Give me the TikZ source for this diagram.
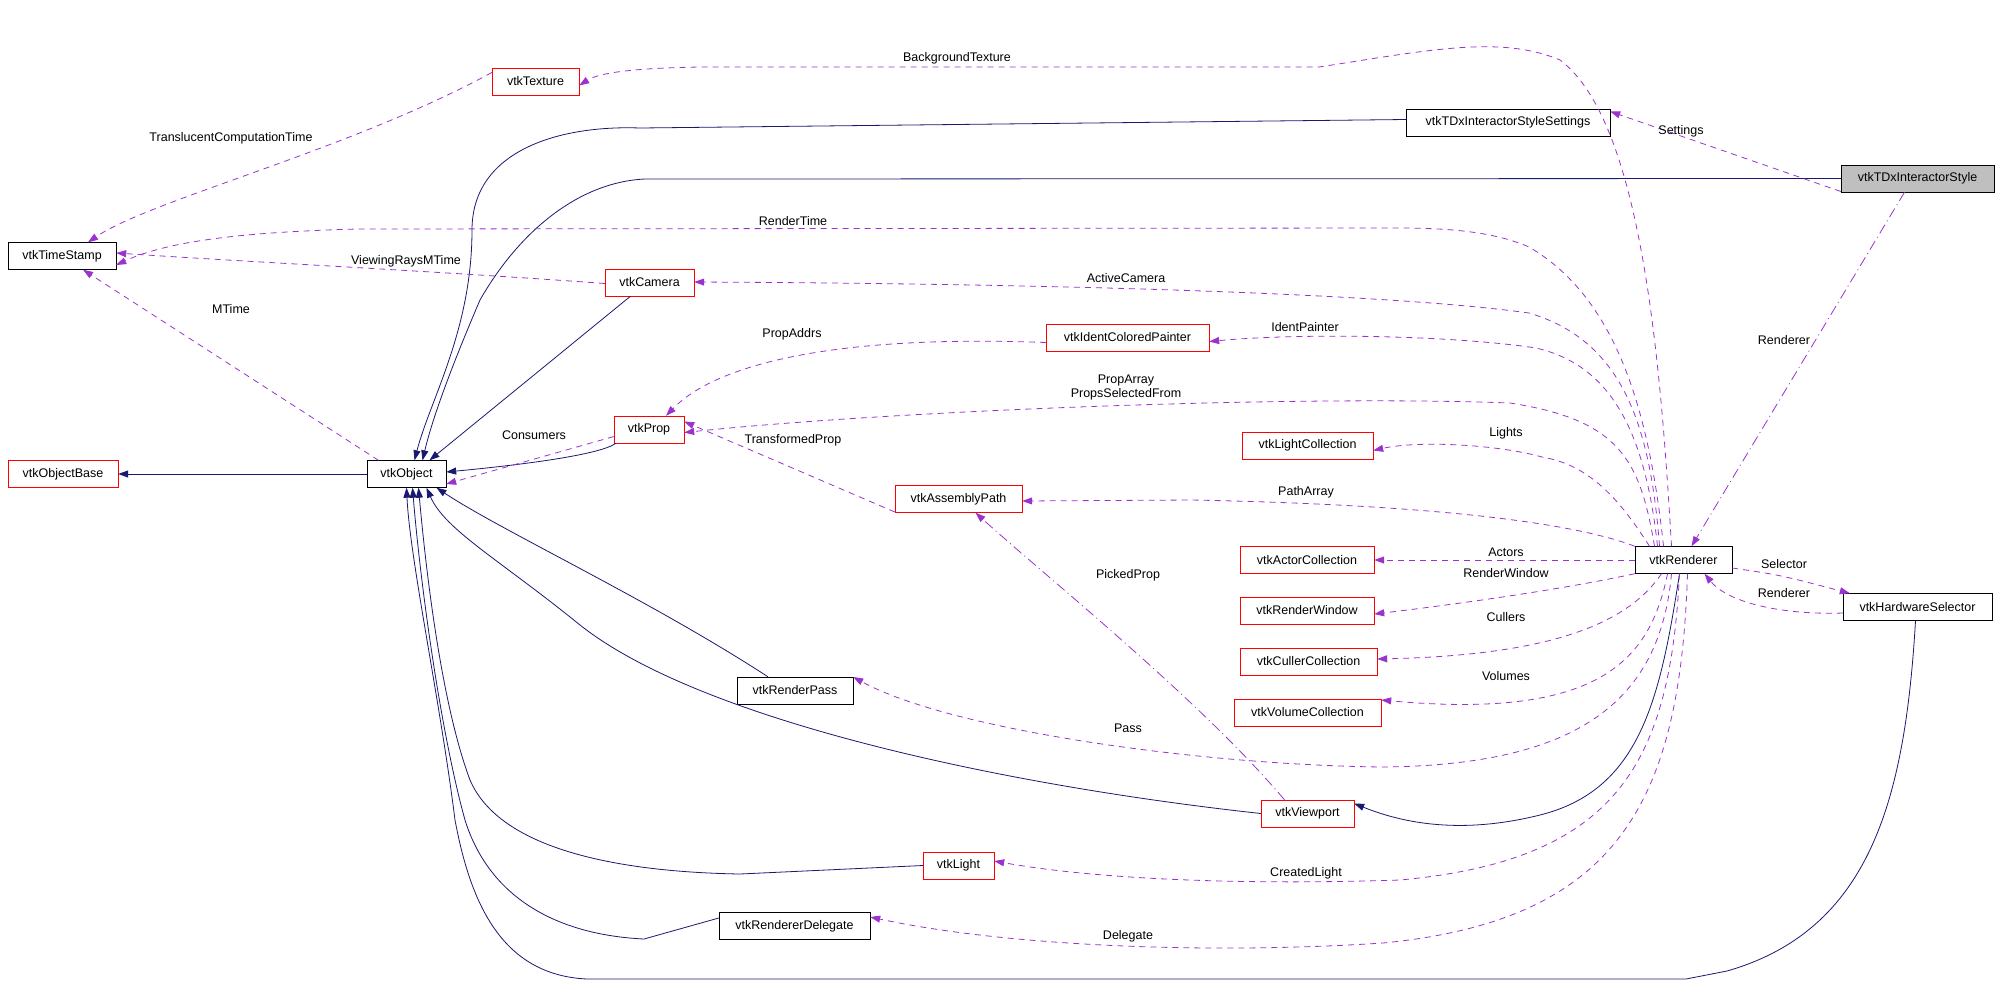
\documentclass[tikz,border=0pt]{standalone}
\usepackage{fontspec}
\setmainfont{Liberation Sans}
\usetikzlibrary{arrows.meta}
\definecolor{inh}{HTML}{191970}
\definecolor{use}{HTML}{9A32CD}
\tikzset{
 cls/.style={draw=black,fill=white,minimum height=27pt,inner sep=0pt,font=\fontsize{12.5}{14}\selectfont},
 rcls/.style={cls,draw=red},
 gcls/.style={cls,fill=black!25},
 inhe/.style={draw=inh,line width=0.8pt,-{Triangle[length=10pt,width=7pt]}},
 usee/.style={draw=use,line width=0.8pt,dash pattern=on 6pt off 5pt,-{Triangle[length=10pt,width=7pt]}},
 lbl/.style={font=\fontsize{12.5}{14}\selectfont,inner sep=0pt,align=center}
}
\begin{document}
\begin{tikzpicture}[x=1pt,y=-1pt]
\useasboundingbox (0,0) rectangle (1995,997);
% nodes
\node[rcls,minimum width=87pt] (texture) at (535.5,81.5) {vtkTexture};
\node[cls,minimum width=108pt] (ts) at (62,256) {vtkTimeStamp};
\node[rcls,minimum width=89pt] (camera) at (649.5,282.5) {vtkCamera};
\node[rcls,minimum width=70pt] (prop) at (649,429.5) {vtkProp};
\node[rcls,minimum width=110pt] (objbase) at (63,474) {vtkObjectBase};
\node[cls,minimum width=79pt] (obj) at (406.5,474) {vtkObject};
\node[rcls,minimum width=127pt] (apath) at (958.5,499) {vtkAssemblyPath};
\node[cls,minimum width=204pt] (settings) at (1508,122.5) {vtkTDxInteractorStyleSettings};
\node[gcls,minimum width=153pt] (style) at (1917.5,178.5) {vtkTDxInteractorStyle};
\node[rcls,minimum width=163pt] (painter) at (1127.5,337.5) {vtkIdentColoredPainter};
\node[rcls,minimum width=131pt] (lightc) at (1307.5,445.5) {vtkLightCollection};
\node[rcls,minimum width=134pt] (actorc) at (1307,560) {vtkActorCollection};
\node[cls,minimum width=97pt] (ren) at (1683.5,560) {vtkRenderer};
\node[rcls,minimum width=134pt] (rwin) at (1307,610.5) {vtkRenderWindow};
\node[rcls,minimum width=137pt] (cullc) at (1308.5,661.5) {vtkCullerCollection};
\node[rcls,minimum width=147pt] (volc) at (1307.5,712.5) {vtkVolumeCollection};
\node[cls,minimum width=149pt] (hw) at (1917.5,607) {vtkHardwareSelector};
\node[rcls,minimum width=93pt] (vp) at (1307.5,813.5) {vtkViewport};
\node[cls,minimum width=116pt] (rpass) at (795,690.5) {vtkRenderPass};
\node[rcls,minimum width=71pt] (light) at (958.5,865.5) {vtkLight};
\node[cls,minimum width=151pt] (deleg) at (794.5,926) {vtkRendererDelegate};
% inheritance
\draw[inhe] (obj.west) -- (objbase.east);
\draw[inhe] ([xshift=-19pt]camera.south) -- ([xshift=23pt]obj.north);
\draw[inhe] ([xshift=-33pt]prop.south) .. controls (600,455) and (520,465) .. ([yshift=2pt]obj.east);
\draw[inhe] ([yshift=3pt]settings.west) -- (640,128) .. controls (560,125) and (472,150) .. (472,230) .. controls (472,330) and (430,400) .. ([xshift=8pt]obj.north);
\draw[inhe] (style.west) -- (645,179) .. controls (580,182) and (520,230) .. (480,300) .. controls (450,370) and (432,420) .. ([xshift=16pt]obj.north);
\draw[inhe] ([xshift=-27pt]rpass.north) .. controls (650,600) and (500,530) .. ([xshift=30pt]obj.south);
\draw[inhe] (vp.west) .. controls (1000,785) and (700,720) .. (580,625) .. controls (500,560) and (445,530) .. ([xshift=20pt]obj.south);
\draw[inhe] (light.west) -- (740,874) .. controls (620,872) and (500,850) .. (470,780) .. controls (440,700) and (425,560) .. ([xshift=12pt]obj.south);
\draw[inhe] ([yshift=8pt]deleg.west) -- (644,939) .. controls (560,935) and (490,900) .. (465,820) .. controls (440,730) and (420,580) .. ([xshift=6pt]obj.south);
\draw[inhe] ([xshift=-2pt]hw.south) .. controls (1905,800) and (1870,930) .. (1727,971) -- (1686,979) -- (587,979) .. controls (500,975) and (470,900) .. (455,820) .. controls (440,700) and (410,560) .. ([xshift=0pt]obj.south);
\draw[inhe] ([xshift=-4pt]ren.south) .. controls (1660,700) and (1640,790) .. (1540,815) .. controls (1480,830) and (1420,830) .. ([yshift=10pt]vp.east);
% usage
\draw[usee] ([yshift=9pt]texture.west) .. controls (350,150) and (150,200) .. ([xshift=26pt]ts.north);
\node[lbl] (l1) at (231,138) {TranslucentComputationTime};
\draw[usee] ([xshift=-12pt]ren.north) .. controls (1660,350) and (1640,120) .. (1560,60) .. controls (1500,35) and (1430,50) .. (1319,67) -- (700,67) .. controls (640,68) and (600,72) .. ([yshift=-4pt]texture.east);
\node[lbl] (l2) at (957,58) {BackgroundTexture};
\draw[usee] ([yshift=-13pt]style.west) -- ([yshift=11pt]settings.east);
\node[lbl] (l3) at (1681,131) {Settings};
\draw[usee,dash pattern=on 10pt off 4pt on 1pt off 4pt] ([xshift=-13pt]style.south) -- ([xshift=8pt]ren.north);
\node[lbl] (l4) at (1784,340) {Renderer};
\draw[usee] ([xshift=-20pt]ren.north) .. controls (1650,420) and (1620,300) .. (1529,247) .. controls (1490,230) and (1440,228) .. (1395,228) -- (357,229) .. controls (250,232) and (170,240) .. ([yshift=-9pt]ts.east);
\node[lbl] (l5) at (793,221) {RenderTime};
\draw[usee] ([yshift=-1pt]camera.west) .. controls (450,272) and (250,262) .. ([yshift=3pt]ts.east);
\node[lbl] (l6) at (406,261) {ViewingRaysMTime};
\draw[usee] ([xshift=-28pt]obj.north) -- ([xshift=21pt]ts.south);
\node[lbl] (l7) at (231,309) {MTime};
\draw[usee] ([xshift=-24pt]ren.north) .. controls (1650,420) and (1620,340) .. (1529,313) .. controls (1400,295) and (1100,284) .. ([yshift=0.5pt]camera.east);
\node[lbl] (l8) at (1126,278) {ActiveCamera};
\draw[usee] ([yshift=-5pt]painter.west) .. controls (850,335) and (720,360) .. ([xshift=17pt]prop.north);
\node[lbl] (l9) at (792,334) {PropAddrs};
\draw[usee] ([xshift=-26pt]ren.north) .. controls (1645,430) and (1610,365) .. (1536,348) .. controls (1450,335) and (1300,333) .. ([yshift=-4pt]painter.east);
\node[lbl] (l10) at (1305,327) {IdentPainter};
\draw[usee] ([xshift=-29pt]ren.north) .. controls (1640,460) and (1620,420) .. (1510,403) .. controls (1300,395) and (900,410) .. ([yshift=-3pt]prop.east);
\node[lbl] (l11) at (1126,387) {PropArray\\PropsSelectedFrom};
\draw[usee] ([yshift=-7pt]prop.west) -- ([yshift=-10pt]obj.east);
\node[lbl] (l12) at (534,435) {Consumers};
\draw[usee] ([yshift=-13pt]apath.west) -- ([yshift=8pt]prop.east);
\node[lbl] (l13) at (793,440) {TransformedProp};
\draw[usee] ([xshift=-34pt]ren.north) .. controls (1620,500) and (1590,465) .. (1542,457) .. controls (1500,445) and (1420,440) .. ([yshift=-5pt]lightc.east);
\node[lbl] (l14) at (1506,433) {Lights};
\draw[usee] (ren.north west) .. controls (1580,525) and (1450,505) .. (1191,500) -- ([yshift=-2pt]apath.east);
\node[lbl] (l15) at (1306,492) {PathArray};
\draw[usee] (ren.west) -- (actorc.east);
\node[lbl] (l16) at (1506,552) {Actors};
\draw[usee] (ren.south west) .. controls (1560,590) and (1450,605) .. ([yshift=-3.5pt]rwin.east);
\node[lbl] (l17) at (1506,573) {RenderWindow};
\draw[usee] ([xshift=-22pt]ren.south) .. controls (1630,620) and (1560,655) .. ([yshift=2.5pt]cullc.east);
\node[lbl] (l18) at (1506,617) {Cullers};
\draw[usee] ([xshift=-16pt]ren.south) .. controls (1650,660) and (1600,720) .. ([yshift=12.5pt]volc.east);
\node[lbl] (l19) at (1506,676) {Volumes};
\draw[usee,dash pattern=on 10pt off 4pt on 1pt off 4pt] ([xshift=-23pt]vp.north) .. controls (1200,700) and (1050,580) .. ([xshift=17pt]apath.south);
\node[lbl] (l20) at (1128,575) {PickedProp};
\draw[usee] ([xshift=-12pt]ren.south) .. controls (1660,700) and (1580,765) .. (1383,767) .. controls (1200,765) and (950,730) .. ([yshift=13.5pt]rpass.east);
\node[lbl] (l21) at (1128,728) {Pass};
\draw[usee] ([xshift=-4pt]ren.south) .. controls (1670,760) and (1620,860) .. (1400,880) .. controls (1250,885) and (1100,880) .. ([yshift=4.5pt]light.east);
\node[lbl] (l22) at (1306,873) {CreatedLight};
\draw[usee] ([xshift=4pt]ren.south) .. controls (1680,800) and (1620,920) .. (1383,943) .. controls (1200,955) and (1000,945) .. ([yshift=9pt]deleg.east);
\node[lbl] (l23) at (1128,936) {Delegate};
\draw[usee] ([yshift=-8pt]ren.east) .. controls (1780,575) .. ([xshift=7pt]hw.north west);
\node[lbl] (l24) at (1784,564) {Selector};
\draw[usee] ([yshift=-6pt]hw.west) .. controls (1790,615) and (1730,605) .. ([xshift=21pt]ren.south);
\node[lbl] (l25) at (1784,593) {Renderer};
\end{tikzpicture}
\end{document}
